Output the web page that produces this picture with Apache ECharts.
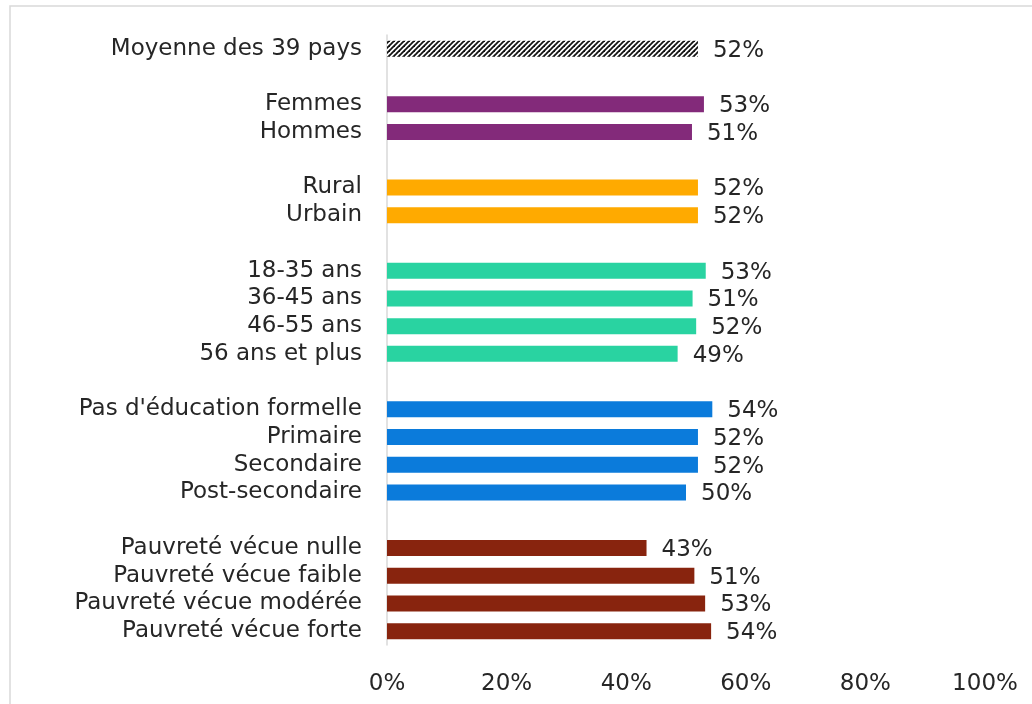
<!DOCTYPE html>
<html><head><meta charset="utf-8">
<script src="https://cdn.jsdelivr.net/npm/echarts@6/dist/echarts.min.js"></script>
<style>html,body{margin:0;padding:0;background:#fff}#c{width:1032px;height:704px}</style>
</head><body><div id="c"></div>
<script>
// Categories ('' = spacer rows between groups)
const categories = ["Moyenne des 39 pays","","Femmes","Hommes","","Rural","Urbain","","18-35 ans","36-45 ans","46-55 ans","56 ans et plus","","Pas d'éducation formelle","Primaire","Secondaire","Post-secondaire","","Pauvreté vécue nulle","Pauvreté vécue faible","Pauvreté vécue modérée","Pauvreté vécue forte"];
const values = [52,null,53,51,null,52,52,null,53.3,51.1,51.7,48.6,null,54.4,52,52,50,null,43.4,51.4,53.2,54.2];
const groups = ["avg",null,"sexe","sexe",null,"milieu","milieu",null,"age","age","age","age",null,"edu","edu","edu","edu",null,"pauv","pauv","pauv","pauv"];
const xTicks = [0,20,40,60,80,100];
const groupColors = {sexe:"#832A7A", milieu:"#FFAA00", age:"#29D3A1", edu:"#0B7BDB", pauv:"#88240E"};

const FONT = "DejaVu Sans";
const FS = 23;

function hatch(){
  const c = document.createElement('canvas'); c.width = 5; c.height = 5;
  const g = c.getContext('2d');
  g.fillStyle = '#fff'; g.fillRect(0,0,5,5);
  g.strokeStyle = '#111'; g.lineWidth = 1.8;
  for (let k=-1;k<=1;k++){ g.beginPath(); g.moveTo(k*5-1,6); g.lineTo(k*5+6,-1); g.stroke(); }
  return c;
}

const data = values.map((v,i)=>{
  if (v === null) return {value: null};
  const g = groups[i];
  const color = g === 'avg' ? {image: hatch(), repeat: 'repeat'} : groupColors[g];
  return {value: v, itemStyle: {color: color}};
});

const chart = echarts.init(document.getElementById('c'), null, {renderer:'canvas'});
chart.setOption({
  animation: false,
  backgroundColor: '#fff',
  graphic: [{type:'rect', shape:{x:10, y:6, width:1060, height:760}, style:{fill:'none', stroke:'#d9d9d9', lineWidth:1.5}, silent:true}],
  grid: {left: 387, right: 47, top: 35, bottom: 59, containLabel: false},
  xAxis: {
    type: 'value', min: 0, max: 100, interval: 20,
    axisLine: {show:false}, axisTick: {show:false}, splitLine: {show:false},
    axisLabel: {formatter: v => v + '%', fontFamily: FONT, fontSize: FS, color: '#262626', margin: 28}
  },
  yAxis: {
    type: 'category', data: categories, inverse: true,
    axisLine: {show:true, lineStyle:{color:'#d9d9d9', width:1.5}}, axisTick: {show:false},
    axisLabel: {fontFamily: FONT, fontSize: FS, color: '#262626', margin: 25, interval: 0, padding: [3,0,0,0]}
  },
  series: [{
    type: 'bar', data: data, barWidth: 16,
    label: {show: true, position: 'right', distance: 15, offset:[0,2], formatter: p => p.value == null ? '' : Math.round(p.value) + '%', fontFamily: FONT, fontSize: FS, color: '#262626'}
  }]
});
</script></body></html>
